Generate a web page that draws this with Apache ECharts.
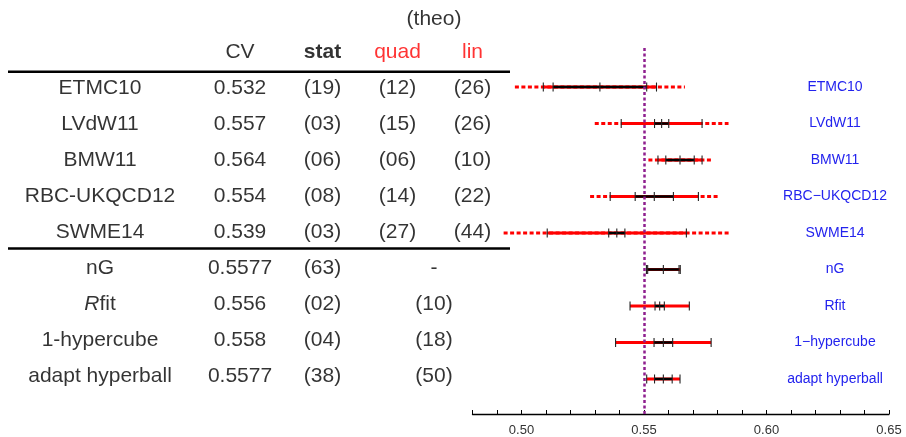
<!DOCTYPE html>
<html>
<head>
<meta charset="utf-8">
<script src="https://cdn.jsdelivr.net/npm/echarts@6/dist/echarts.min.js"></script>
<style>
  html, body { margin: 0; padding: 0; background: #fff; }
  #main { width: 906px; height: 437px; }
</style>
</head>
<body>
<div id="main"></div>
<script>
// table columns
var names = ['ETMC10', 'LVdW11', 'BMW11', 'RBC-UKQCD12', 'SWME14', 'nG', '{i|R}fit', '1-hypercube', 'adapt hyperball'];
var cvText = ['0.532', '0.557', '0.564', '0.554', '0.539', '0.5577', '0.556', '0.558', '0.5577'];
var statText = ['(19)', '(03)', '(06)', '(08)', '(03)', '(63)', '(02)', '(04)', '(38)'];
var quadText = ['(12)', '(15)', '(06)', '(14)', '(27)'];
var linText = ['(26)', '(26)', '(10)', '(22)', '(44)'];
var theoText = ['-', '(10)', '(18)', '(50)'];   // rows 5..8, one merged column

// plot values
var plotLabels = ['ETMC10', 'LVdW11', 'BMW11', 'RBC\u2212UKQCD12', 'SWME14', 'nG', 'Rfit', '1\u2212hypercube', 'adapt hyperball'];
var cv       = [0.5320, 0.5572, 0.5647, 0.5542, 0.5389, 0.5579, 0.5564, 0.5579, 0.5579];
var statErr  = [0.0191, 0.0029, 0.0058, 0.0078, 0.0033, 0.0064, 0.0019, 0.0038, 0.0036];
var innerErr = [0.0231, 0.0165, 0.0090, 0.0180, 0.0284, 0.0069, 0.0121, 0.0195, 0.0068];
var outerErr = [0.0347, 0.0273, 0.0129, 0.0262, 0.0462, 0, 0, 0, 0];
var refValue = 0.55;

var FONT = '"Liberation Sans", Arial, sans-serif';
var colX = { name: 100, cv: 240, stat: 322.5, quad: 397.5, lin: 472.5, theo: 434 };

// build table cells
var cells = [];
names.forEach(function (n, i) {
    cells.push([colX.name, i, n]);
    cells.push([colX.cv, i, cvText[i]]);
    cells.push([colX.stat, i, statText[i]]);
});
quadText.forEach(function (t, i) { cells.push([colX.quad, i, t]); });
linText.forEach(function (t, i) { cells.push([colX.lin, i, t]); });
theoText.forEach(function (t, i) { cells.push([colX.theo, i + 5, t]); });

var headers = [
    [colX.cv, -1, 'CV', '#000', 'normal'],
    [colX.stat, -1, 'stat', '#000', 'bold'],
    [colX.quad, -1, 'quad', '#ff0000', 'normal'],
    [colX.lin, -1, 'lin', '#ff0000', 'normal'],
    [colX.theo, -1.91, '(theo)', '#000', 'normal']
];

var barData = cv.map(function (c, i) {
    return [c, i, statErr[i], innerErr[i], outerErr[i]];
});

function seg(x1, x2, y, style) {
    return { type: 'line', shape: { x1: x1, y1: y, x2: x2, y2: y }, style: style };
}

var myChart = echarts.init(document.getElementById('main'));

option = {
    animation: false,
    grid: [
        { left: 472.5, right: 17, top: 48, bottom: 20 },
        { left: 0, right: 0, top: 0, bottom: 0 }
    ],
    xAxis: [{
        gridIndex: 0, type: 'value', min: 0.48, max: 0.65, interval: 0.01,
        splitLine: { show: false },
        axisLine: { onZero: false, lineStyle: { color: '#000', width: 1.3 } },
        axisTick: { inside: true, length: 4, lineStyle: { color: '#000', width: 1 } },
        axisLabel: {
            color: '#333', fontSize: 13, fontFamily: FONT, margin: 10,
            formatter: function (v) {
                var k = v * 20;
                return Math.abs(k - Math.round(k)) < 1e-6 ? v.toFixed(2) : '';
            }
        }
    }, {
        gridIndex: 1, type: 'value', min: 0, max: 906, show: false
    }],
    yAxis: [{
        gridIndex: 0, type: 'value', min: -1.07, max: 8.96, inverse: true, show: false
    }, {
        gridIndex: 1, type: 'value', min: -88 / 36, max: (437 - 88) / 36, inverse: true, show: false
    }],
    graphic: [
        { type: 'line', shape: { x1: 8, y1: 71.7, x2: 510, y2: 71.7 }, style: { stroke: '#000', lineWidth: 2.5 } },
        { type: 'line', shape: { x1: 8, y1: 248.5, x2: 510, y2: 248.5 }, style: { stroke: '#000', lineWidth: 2.5 } }
    ],
    series: [{
        type: 'custom',
        xAxisIndex: 0, yAxisIndex: 0,
        data: barData,
        renderItem: function (params, api) {
            var c = api.value(0), r = api.value(1);
            var s = api.value(2), q = api.value(3), o = api.value(4);
            var px = function (v) { return api.coord([v, r])[0]; };
            var y = api.coord([c, r])[1];
            var ch = [];
            if (o > 0) {
                ch.push(seg(px(c - o), px(c + o), y, { stroke: '#ff0000', lineWidth: 3, lineDash: [4, 2.5] }));
            }
            ch.push(seg(px(c - q), px(c + q), y, { stroke: '#ff0000', lineWidth: 3 }));
            ch.push(seg(px(c - s), px(c + s), y, { stroke: '#000', lineWidth: 2.5 }));
            [c - q, c - s, c, c + s, c + q].forEach(function (v) {
                var x = px(v);
                ch.push({ type: 'line', shape: { x1: x, y1: y - 4.5, x2: x, y2: y + 4.5 },
                          style: { stroke: '#222', lineWidth: 1.1 } });
            });
            ch.push({ type: 'text', x: 835, y: y,
                      style: { text: plotLabels[params.dataIndex], fill: '#2323ee', font: '14px ' + FONT,
                               align: 'center', verticalAlign: 'middle' } });
            return { type: 'group', children: ch };
        },
        markLine: {
            silent: true, symbol: 'none',
            label: { show: false },
            lineStyle: { color: '#8e1f8e', width: 2.5, type: [3, 2.5] },
            data: [{ xAxis: refValue }]
        }
    }, {
        type: 'scatter',
        xAxisIndex: 1, yAxisIndex: 1,
        symbolSize: 0,
        data: cells,
        label: {
            show: true, position: 'inside', color: '#000', fontSize: 21, fontFamily: FONT,
            textBorderWidth: 0,
            formatter: function (p) { return p.value[2]; },
            rich: { i: { fontStyle: 'italic', fontSize: 21, fontFamily: FONT, color: '#000', textBorderWidth: 0 } }
        }
    }, {
        type: 'scatter',
        xAxisIndex: 1, yAxisIndex: 1,
        symbolSize: 0,
        data: headers.map(function (h) {
            return { value: [h[0], h[1], h[2]], label: { color: h[3], fontWeight: h[4] } };
        }),
        label: {
            show: true, position: 'inside', fontSize: 21, fontFamily: FONT, textBorderWidth: 0,
            formatter: function (p) { return p.value[2]; }
        }
    }]
};

myChart.setOption(option);
</script>
</body>
</html>
